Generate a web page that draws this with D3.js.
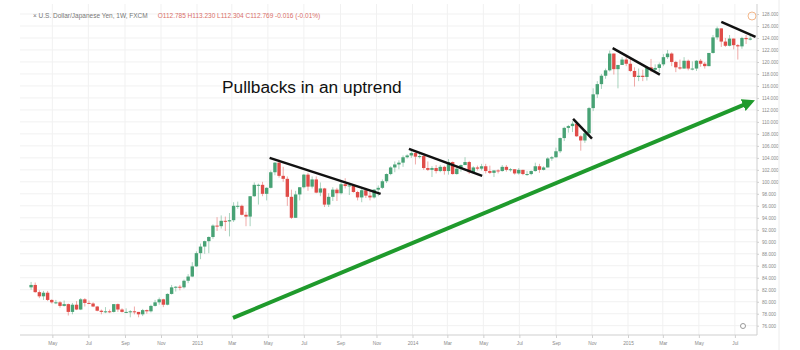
<!DOCTYPE html>
<html>
<head>
<meta charset="utf-8">
<script src="https://cdn.jsdelivr.net/npm/d3@7"></script>
<style>
  body { margin: 0; background: #fff; }
  svg { display: block; font-family: "Liberation Sans", Arial, sans-serif; }
  .tick text { fill: #8a8a8a; }
</style>
</head>
<body>
<div id="chart"></div>
<script>
// weekly USD/JPY candles, Mar 2012 - Jul 2015
var firstWeek = new Date(2012, 2, 26);
var lastWeek = new Date(2015, 6, 27);

var opens = [
  82.4, 82.8, 81.6, 80.9, 81.5, 80.3, 79.9, 79.9, 79.3, 79.6, 78.3, 79.5, 78.7, 80.4, 79.8, 79.7, 79.2, 78.5, 78.3, 78.4,
  78.3, 79.6, 78.7, 78.3, 78.3, 78.4, 78.3, 77.9, 78.6, 78.4, 79.3, 79.9, 80.4, 79.5, 81.3, 82.4, 82.5, 82.4, 83.5, 84.2, 85.9,
  88.1, 89.2, 90.1, 90.8, 92.7, 92.6, 93.5, 93.4, 93.6, 96.0, 96.0, 94.5, 94.2, 97.6, 99.5, 99.5, 98.0, 99.0, 101.6, 103.2,
  101.0, 100.5, 97.5, 94.0, 97.9, 99.1, 101.2, 99.2, 100.4, 98.2, 98.9, 96.2, 97.5, 98.7, 98.1, 99.6, 99.3, 99.4, 98.3, 97.4,
  98.6, 97.7, 97.4, 98.7, 99.0, 100.1, 101.3, 102.4, 102.9, 103.2, 104.1, 104.4,
  104.8, 104.2, 104.3, 102.3, 102.0, 102.3, 101.8, 102.5, 101.8, 103.3, 101.3, 102.2, 102.8, 103.3, 101.6, 102.4, 102.2,
  102.6, 101.8, 101.5, 101.9, 101.8, 102.5, 102.0, 102.1, 101.4, 102.0, 101.3, 101.3, 101.8, 102.6, 102.0, 102.4, 103.9,
  104.1, 105.1, 107.3, 109.0, 109.3, 109.7, 107.6, 106.9, 108.1, 112.3, 114.6, 116.3, 117.7, 118.6, 121.4, 118.8, 119.5, 120.4,
  119.7, 118.5, 117.5, 117.7, 117.5, 119.1, 118.7, 119.0, 119.6, 120.8, 121.4, 120.0, 119.1, 118.9, 120.2, 118.9, 118.9,
  120.2, 119.7, 119.3, 121.5, 124.1, 125.6, 123.4, 122.7, 123.9, 122.8, 122.6, 124.0, 123.8
];
var highs = [
  83.3, 83.2, 81.9, 81.8, 81.8, 80.4, 80.3, 80.1, 80.2, 79.7, 79.8, 80.1, 80.6, 80.6, 80.2, 79.9, 79.3, 78.7, 79.1, 78.7,
  79.6, 79.7, 78.9, 78.9, 78.6, 79.2, 78.3, 78.8, 78.7, 79.5, 80.3, 80.7, 80.5, 81.4, 82.8, 82.6, 82.8, 83.7, 84.6, 86.6, 88.4,
  89.7, 90.2, 90.9, 92.9, 94.1, 94.4, 94.2, 94.8, 96.6, 96.7, 96.2, 95.0, 97.6, 99.9, 99.7, 100.0, 99.1, 101.9, 103.3,
  103.7, 102.5, 100.9, 98.7, 98.5, 99.1, 101.3, 101.5, 100.9, 100.9, 99.9, 99.0, 98.1, 99.1, 99.0, 100.2, 100.6, 99.7, 99.5,
  98.5, 98.8, 99.0, 98.5, 98.8, 99.4, 100.4, 101.4, 102.6, 103.4, 103.6, 104.4, 104.6, 105.4,
  105.0, 104.9, 104.8, 103.4, 102.6, 102.8, 102.8, 102.7, 103.8, 103.4, 102.7, 102.9, 104.1, 103.5, 102.6, 102.7, 103.0,
  103.0, 102.7, 101.9, 102.1, 102.8, 102.8, 102.3, 102.1, 102.3, 102.0, 101.8, 101.9, 103.2, 103.0, 102.6, 104.1, 104.3,
  105.7, 107.4, 109.2, 109.5, 110.1, 109.9, 107.8, 108.4, 112.5, 115.6, 116.8, 118.0, 118.9, 121.9, 121.4, 119.5, 120.8, 121.0,
  120.8, 119.1, 118.9, 118.7, 119.2, 120.5, 119.6, 119.9, 121.3, 122.0, 121.6, 120.2, 120.4, 120.8, 120.4, 120.1, 120.3,
  120.5, 120.0, 121.5, 124.5, 125.9, 125.6, 124.0, 124.5, 123.9, 123.0, 124.2, 124.5, 124.6
];
var lows = [
  82.0, 81.5, 80.6, 80.3, 80.1, 79.7, 79.6, 79.0, 79.2, 77.7, 77.9, 78.6, 78.6, 79.2, 79.6, 79.1, 78.4, 77.9, 78.1, 78.1,
  78.2, 78.3, 78.2, 78.1, 77.4, 77.9, 77.4, 77.6, 78.0, 78.2, 79.2, 79.5, 79.1, 79.4, 81.2, 81.7, 81.9, 82.2, 83.1, 84.1, 85.8,
  87.1, 88.0, 88.1, 90.5, 91.8, 92.2, 91.8, 90.9, 93.3, 95.5, 94.4, 92.6, 92.6, 97.5, 96.2, 97.6, 96.9, 98.9, 101.1,
  100.7, 100.0, 96.0, 93.8, 94.0, 96.9, 98.9, 98.5, 98.9, 98.1, 97.6, 95.8, 95.8, 96.8, 96.8, 97.9, 98.9, 97.8, 98.2,
  96.9, 96.6, 97.3, 96.9, 97.2, 97.6, 98.8, 99.8, 101.1, 101.6, 102.1, 102.5, 103.9, 104.0,
  102.9, 103.9, 102.0, 101.8, 100.8, 101.4, 101.6, 101.2, 101.2, 101.2, 101.2, 101.7, 102.8, 101.3, 101.4, 101.9, 101.9,
  101.4, 101.3, 100.8, 101.4, 101.7, 101.7, 101.7, 101.2, 101.2, 101.1, 101.0, 101.1, 101.7, 101.5, 101.9, 102.4, 103.5,
  104.0, 104.8, 106.8, 108.2, 108.3, 107.5, 105.2, 106.5, 107.7, 111.8, 114.0, 115.5, 117.2, 118.4, 117.9, 115.6, 119.5, 119.3,
  118.3, 115.9, 116.8, 116.8, 116.9, 118.3, 118.2, 118.3, 119.3, 120.5, 119.3, 118.3, 118.7, 118.9, 118.6, 118.6, 118.5,
  119.2, 118.9, 119.3, 121.4, 123.7, 122.5, 122.5, 122.6, 122.1, 120.4, 122.2, 123.0, 123.6
];
var closes = [
  82.8, 81.6, 80.9, 81.5, 80.3, 79.9, 79.9, 79.3, 79.6, 78.3, 79.5, 78.7, 80.4, 79.8, 79.7, 79.2, 78.5, 78.3, 78.4, 78.3,
  79.6, 78.7, 78.3, 78.3, 78.4, 78.3, 77.9, 78.6, 78.4, 79.3, 79.9, 80.4, 79.5, 81.3, 82.4, 82.5, 82.4, 83.5, 84.2, 85.9, 88.1,
  89.2, 90.1, 90.8, 92.7, 92.6, 93.5, 93.4, 93.6, 96.0, 96.0, 94.5, 94.2, 97.6, 99.5, 99.5, 98.0, 99.0, 101.6, 103.2,
  101.0, 100.5, 97.5, 94.0, 97.9, 99.1, 101.2, 99.2, 100.4, 98.2, 98.9, 96.2, 97.5, 98.7, 98.1, 99.6, 99.3, 99.4, 98.3,
  97.4, 98.6, 97.7, 97.4, 98.7, 99.0, 100.1, 101.3, 102.4, 102.9, 103.2, 104.1, 104.4, 104.8,
  104.2, 104.3, 102.3, 102.0, 102.3, 101.8, 102.5, 101.8, 103.3, 101.3, 102.2, 102.8, 103.3, 101.6, 102.4, 102.2, 102.6,
  101.8, 101.5, 101.9, 101.8, 102.5, 102.0, 102.1, 101.4, 102.0, 101.3, 101.3, 101.8, 102.6, 102.0, 102.4, 103.9, 104.1,
  105.1, 107.3, 109.0, 109.3, 109.7, 107.6, 106.9, 108.1, 112.3, 114.6, 116.3, 117.7, 118.6, 121.4, 118.8, 119.5, 120.4, 119.7,
  118.5, 117.5, 117.7, 117.5, 119.1, 118.7, 119.0, 119.6, 120.8, 121.4, 120.0, 119.1, 118.9, 120.2, 118.9, 118.9, 120.2,
  119.7, 119.3, 121.5, 124.1, 125.6, 123.4, 122.7, 123.9, 122.8, 122.6, 124.0, 123.8, 123.9
];

var yTicks = d3.range(76, 129, 2);

// hand drawn pullback lines: [date, price] pairs
var pullbacks = [
  [[new Date(2013, 4, 4), 104.0], [new Date(2013, 10, 8), 98.0]],
  [[new Date(2013, 11, 26), 105.5], [new Date(2014, 3, 29), 101.0]],
  [[new Date(2014, 8, 30), 110.5], [new Date(2014, 10, 1), 107.2]],
  [[new Date(2014, 11, 6), 122.3], [new Date(2015, 1, 24), 117.9]],
  [[new Date(2015, 5, 8), 126.7], [new Date(2015, 7, 5), 124.2]]
];
var trendArrow = [[new Date(2013, 2, 3), 77.3], [new Date(2015, 6, 27), 113.3]];

var title = "Pullbacks in an uptrend";
var symbolText = "U.S. Dollar/Japanese Yen, 1W, FXCM";
var ohlcText = "O112.785  H113.230  L112.304  C112.769  -0.016 (-0.01%)";

var svgWidth = 800;
var svgHeight = 350;

var svg = d3.select("#chart")
  .append("svg")
  .attr("width", svgWidth)
  .attr("height", svgHeight);

var weeks = d3.timeMonday.range(firstWeek, d3.timeDay.offset(lastWeek, 1));
var candles = weeks.map(function(d, i) {
  return { date: d, open: opens[i], high: highs[i], low: lows[i], close: closes[i] };
});

var xScale = d3.scaleTime()
  .domain([new Date(2013, 0, 1), new Date(2015, 0, 1)])
  .range([197, 628]);

var yScale = d3.scaleLinear()
  .domain([76, 128])
  .range([325.7, 14]);

var plotLeft = 20, plotRight = 757, plotTop = 4, plotBottom = 335;

// grid
var monthTicks = d3.timeMonth.every(2).range(new Date(2012, 4, 1), new Date(2015, 7, 2));

svg.append("g")
  .selectAll("line")
  .data(yTicks)
  .enter()
  .append("line")
  .attr("x1", plotLeft)
  .attr("x2", plotRight)
  .attr("y1", d => yScale(d))
  .attr("y2", d => yScale(d))
  .attr("stroke", "#f1f1f1")
  .attr("stroke-width", 1);

svg.append("g")
  .selectAll("line")
  .data(monthTicks)
  .enter()
  .append("line")
  .attr("x1", d => xScale(d))
  .attr("x2", d => xScale(d))
  .attr("y1", plotTop)
  .attr("y2", plotBottom)
  .attr("stroke", "#f1f1f1")
  .attr("stroke-width", 1);

// axes
var fmtMonth = d3.timeFormat("%b");
var bottomAxis = d3.axisBottom(xScale)
  .tickValues(monthTicks)
  .tickSize(3)
  .tickFormat(d => d.getMonth() === 0 ? d.getFullYear() : fmtMonth(d));

var xAxisG = svg.append("g")
  .attr("transform", `translate(0, ${plotBottom})`)
  .call(bottomAxis);
xAxisG.select(".domain").attr("d", `M${plotLeft},0H${plotRight}`).attr("stroke", "#cfcfcf");
xAxisG.selectAll(".tick line").attr("stroke", "#cfcfcf");
xAxisG.selectAll(".tick text").attr("font-size", 4.8).attr("dy", "0.9em");

var rightAxis = d3.axisRight(yScale)
  .tickValues(yTicks)
  .tickSize(2)
  .tickFormat(d3.format(".3f"));

var yAxisG = svg.append("g")
  .attr("transform", `translate(${plotRight}, 0)`)
  .call(rightAxis);
yAxisG.select(".domain").attr("d", `M0,${plotTop}V${plotBottom}`).attr("stroke", "#cfcfcf");
yAxisG.selectAll(".tick line").attr("stroke", "#cfcfcf");
yAxisG.selectAll(".tick text").attr("font-size", 4.6).attr("x", 5);

svg.append("line")
  .attr("x1", 779).attr("x2", 779)
  .attr("y1", 0).attr("y2", svgHeight)
  .attr("stroke", "#ececec");

// candles
var upColor = "#48a275", downColor = "#e04c48";

var candleG = svg.append("g")
  .selectAll("g")
  .data(candles)
  .enter()
  .append("g")
  .attr("transform", d => `translate(${xScale(d.date)}, 0)`);

candleG.append("line")
  .attr("y1", d => yScale(d.high))
  .attr("y2", d => yScale(d.low))
  .attr("stroke", d => d.close >= d.open ? upColor : downColor)
  .attr("stroke-opacity", 0.6)
  .attr("stroke-width", 0.8);

candleG.append("rect")
  .attr("x", -1.7)
  .attr("width", 3.4)
  .attr("y", d => yScale(Math.max(d.open, d.close)))
  .attr("height", d => Math.max(1, Math.abs(yScale(d.open) - yScale(d.close))))
  .attr("fill", d => d.close >= d.open ? upColor : downColor);

// header
var header = svg.append("text")
  .attr("x", 33)
  .attr("y", 18)
  .attr("font-size", 6.5)
  .attr("fill", "#777");
header.append("tspan").text("× " + symbolText);
header.append("tspan").attr("dx", 10).attr("fill", "#d9706a").text(ohlcText);

// markers near the corners
svg.append("circle")
  .attr("cx", 752).attr("cy", 16).attr("r", 4)
  .attr("fill", "none").attr("stroke", "#f3b88c").attr("stroke-width", 1);
svg.append("circle")
  .attr("cx", 743).attr("cy", 326).attr("r", 2.5)
  .attr("fill", "#fff").attr("stroke", "#999").attr("stroke-width", 1);

// title
svg.append("text")
  .attr("x", 222)
  .attr("y", 93)
  .attr("font-size", 17.3)
  .attr("fill", "#111")
  .text(title);

// pullback lines
var line = d3.line()
  .x(d => xScale(d[0]))
  .y(d => yScale(d[1]));

svg.append("g")
  .selectAll("path")
  .data(pullbacks)
  .enter()
  .append("path")
  .attr("d", line)
  .attr("stroke", "#111")
  .attr("stroke-width", 2.5)
  .attr("fill", "none");

// uptrend arrow
svg.append("defs").append("marker")
  .attr("id", "arrowHead")
  .attr("viewBox", "0 0 10 10")
  .attr("refX", 6)
  .attr("refY", 5)
  .attr("markerWidth", 3.2)
  .attr("markerHeight", 3.2)
  .attr("orient", "auto")
  .append("path")
  .attr("d", "M0,0L10,5L0,10z")
  .attr("fill", "#1f9a2c");

svg.append("path")
  .attr("d", line(trendArrow))
  .attr("stroke", "#1f9a2c")
  .attr("stroke-width", 4)
  .attr("fill", "none")
  .attr("marker-end", "url(#arrowHead)");
</script>
</body>
</html>
